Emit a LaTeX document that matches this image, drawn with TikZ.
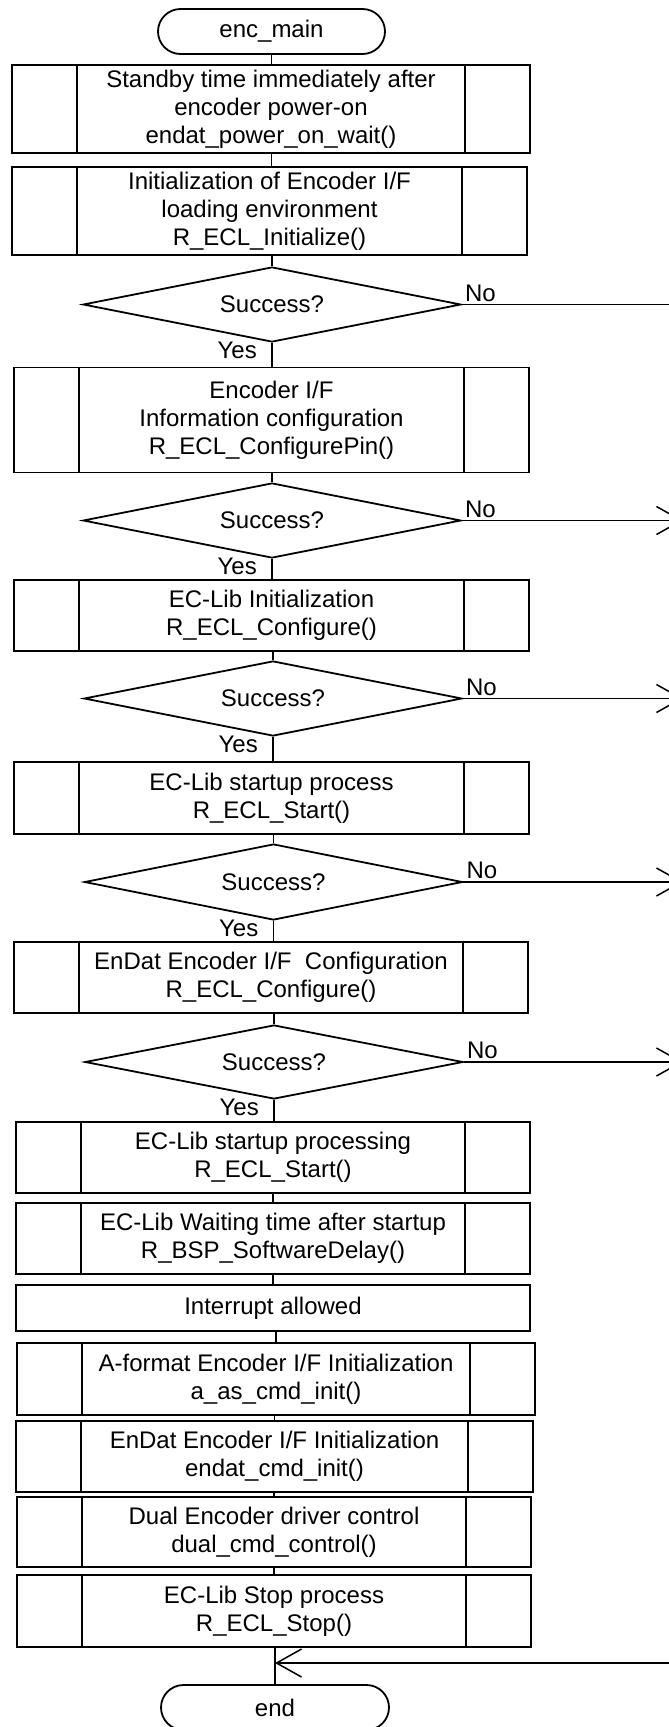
\documentclass[tikz,border=0pt]{standalone}
\usepackage{fontspec}
\setmainfont{Liberation Sans}
\usetikzlibrary{shapes.geometric,shapes.misc,arrows.meta,calc}

\begin{document}
\begin{tikzpicture}[x=1pt,y=-1pt,
  every node/.style={font=\fontsize{24}{28}\selectfont, inner sep=0pt},
  shapeline/.style={draw, line width=1.8pt},
  subproc/.style={shapeline, rectangle, align=center, minimum width=515pt,
    path picture={\draw[line width=1.8pt]
      ([xshift=65pt]path picture bounding box.north west) -- ([xshift=65pt]path picture bounding box.south west)
      ([xshift=-65pt]path picture bounding box.north east) -- ([xshift=-65pt]path picture bounding box.south east);}},
  procbox/.style={shapeline, rectangle, align=center, minimum width=514pt},
  terminal/.style={shapeline, rounded rectangle, minimum width=227pt, minimum height=45pt},
  decision/.style={shapeline, diamond, aspect=5, minimum width=378pt, minimum height=75pt},
  flow/.style={line width=1.5pt},
  toexit/.style={flow, -{Straight Barb[length=25pt,width=28pt,line width=1.5pt]}},
  yeslabel/.style={anchor=base east},
  nolabel/.style={anchor=base west},
]
\useasboundingbox (0,0) rectangle (669,1727);
\clip (0,0) rectangle (669,1727);

% free ends of the branch lines, beyond the right margin
\coordinate (rim) at (683,0);
\coordinate (far) at (720,0);

% start
\node[terminal] (start) at (271.5,31.5) {enc\_main};

% sub-process boxes and decisions
\node[subproc, minimum width=518pt, minimum height=88pt] (b1) at (271,109)
  {Standby time immediately after\\encoder power-on\\endat\_power\_on\_wait()};
\node[subproc, minimum height=88pt] (b2) at (269.5,211)
  {Initialization of Encoder I/F\\loading environment\\R\_ECL\_Initialize()};
\node[decision] (d1) at (272,304.5) {Success?};

\node[subproc, minimum height=105pt] (b3) at (271.5,420)
  {Encoder I/F\\Information configuration\\R\_ECL\_ConfigurePin()};
\node[decision] (d2) at (272,520.5) {Success?};

\node[subproc, minimum height=71pt] (b4) at (271.5,615.5)
  {EC-Lib Initialization\\R\_ECL\_Configure()};
\node[decision] (d3) at (273,698.5) {Success?};

\node[subproc, minimum height=72pt] (b5) at (271.5,798)
  {EC-Lib startup process\\R\_ECL\_Start()};
\node[decision, minimum height=76pt] (d4) at (273.5,882) {Success?};

\node[subproc, minimum width=514pt, minimum height=71pt] (b6) at (271,977.5)
  {EnDat Encoder I/F~ Configuration\\R\_ECL\_Configure()};
\node[decision, minimum height=74pt] (d5) at (274,1062) {Success?};

\node[subproc, minimum width=514pt, minimum height=71pt] (b7) at (273,1157.5)
  {EC-Lib startup processing\\R\_ECL\_Start()};
\node[subproc, minimum width=514pt, minimum height=71pt] (b8) at (273,1238.5)
  {EC-Lib Waiting time after startup\\R\_BSP\_SoftwareDelay()};
\node[procbox, minimum height=46pt] (b9) at (273,1308) {Interrupt allowed};
\node[subproc, minimum width=518pt, minimum height=72pt] (b10) at (276,1379)
  {A-format Encoder I/F Initialization\\a\_as\_cmd\_init()};
\node[subproc, minimum width=517pt, minimum height=71pt] (b11) at (274.5,1456.5)
  {EnDat Encoder I/F Initialization\\endat\_cmd\_init()};
\node[subproc, minimum width=514pt, minimum height=70pt] (b12) at (274,1532)
  {Dual Encoder driver control\\dual\_cmd\_control()};
\node[subproc, minimum width=514pt, minimum height=72pt] (b13) at (274,1611)
  {EC-Lib Stop process\\R\_ECL\_Stop()};

% end
\node[terminal, minimum width=228pt] (end) at (275,1707.5) {end};
\coordinate (join) at (275,1663);

% main flow
\draw[flow] (start.south) -- (start.south |- b1.north);
\draw[flow] (start.south |- b1.south) -- (start.south |- b2.north);
\draw[flow] (d1.north |- b2.south) -- (d1.north);
\draw[flow] (d1.south) -- (d1.south |- b3.north);
\draw[flow] (d2.north |- b3.south) -- (d2.north);
\draw[flow] (d2.south) -- (d2.south |- b4.north);
\draw[flow] (d3.north |- b4.south) -- (d3.north);
\draw[flow] (d3.south) -- (d3.south |- b5.north);
\draw[flow] (d4.north |- b5.south) -- (d4.north);
\draw[flow] (d4.south) -- (d4.south |- b6.north);
\draw[flow] (d5.north |- b6.south) -- (d5.north);
\draw[flow] (d5.south) -- (d5.south |- b7.north);
\draw[flow] (b8.north |- b7.south) -- (b8.north);
\draw[flow] (b9.north |- b8.south) -- (b9.north);
\draw[flow] (b10.north |- b9.south) -- (b10.north);
\draw[flow] (b11.north |- b10.south) -- (b11.north);
\draw[flow] (b12.north |- b11.south) -- (b12.north);
\draw[flow] (b13.north |- b12.south) -- (b13.north);
\draw[flow] (end.north |- b13.south) -- (end.north);

% Yes labels
\node[yeslabel] (y1) at ($(d1.south)+(-15,16)$) {Yes};
\node[yeslabel] (y2) at ($(d2.south)+(-15,16)$) {Yes};
\node[yeslabel] (y3) at ($(d3.south)+(-15,16)$) {Yes};
\node[yeslabel] (y4) at ($(d4.south)+(-15,16)$) {Yes};
\node[yeslabel] (y5) at ($(d5.south)+(-15,16)$) {Yes};

% No branches
\node[nolabel] (n1) at ($(d1.east)+(3,-3.5)$) {No};
\node[nolabel] (n2) at ($(d2.east)+(3,-3.5)$) {No};
\node[nolabel] (n3) at ($(d3.east)+(3,-3.5)$) {No};
\node[nolabel] (n4) at ($(d4.east)+(3,-3.5)$) {No};
\node[nolabel] (n5) at ($(d5.east)+(3,-3.5)$) {No};
\draw[flow] (d1.east) -- (d1.east -| far);
\draw[toexit] (d2.east) -- (d2.east -| rim);
\draw[toexit] (d3.east) -- (d3.east -| rim);
\draw[toexit] (d4.east) -- (d4.east -| rim);
\draw[toexit] (d5.east) -- (d5.east -| rim);

% return into the end
\draw[toexit] (join -| far) -- (join);
\end{tikzpicture}
\end{document}
